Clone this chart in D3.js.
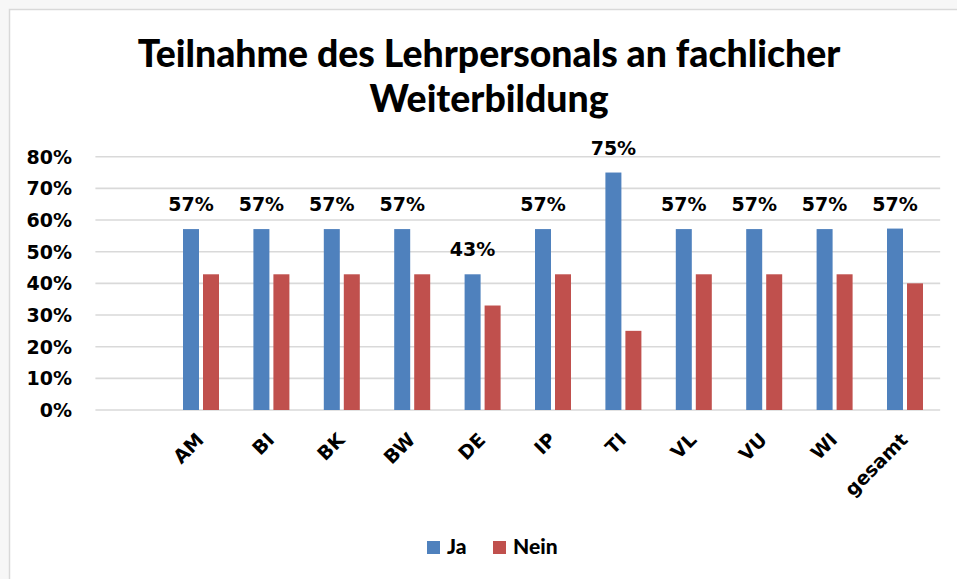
<!DOCTYPE html>
<html>
<head>
<meta charset="utf-8">
<script src="https://cdn.jsdelivr.net/npm/d3@7"></script>
<style>
  html, body { margin: 0; padding: 0; background: #f7f7f7; }
  svg { display: block; }
</style>
</head>
<body>
<div id="display"></div>
<script>
// chart values
const categories = ['', 'AM', 'BI', 'BK', 'BW', 'DE', 'IP', 'TI', 'VL', 'VU', 'WI', 'gesamt'];
const seriesNames = ['Ja', 'Nein'];
const jaValues = [null, 0.5714, 0.5714, 0.5714, 0.5714, 0.4286, 0.5714, 0.75, 0.5714, 0.5714, 0.5714, 0.573];
const neinValues = [null, 0.4286, 0.4286, 0.4286, 0.4286, 0.33, 0.4286, 0.25, 0.4286, 0.4286, 0.4286, 0.40];
const yTicks = [0, 0.1, 0.2, 0.3, 0.4, 0.5, 0.6, 0.7, 0.8];
const titleLines = ['Teilnahme des Lehrpersonals an fachlicher', 'Weiterbildung'];

const colors = {Ja: '#4f81bd', Nein: '#c0504d'};
const W = 957;
const H = 579;

const svg = d3.select('#display').append('svg')
    .attr('width', W)
    .attr('height', H);

// chart frame
svg.append('rect')
    .attr('x', 9.5).attr('y', 9.5)
    .attr('width', W + 10).attr('height', H + 10)
    .attr('fill', '#ffffff')
    .attr('stroke', '#d9d9d9')
    .attr('stroke-width', 1.5);

const x0 = d3.scaleBand().domain(categories).range([95.4, 940.2]);
const x1 = d3.scaleBand().domain(seriesNames).range([0, 36]).paddingInner(0.2);
const y = d3.scaleLinear().domain([0, 0.8]).range([410, 156.7]);

// gridlines
svg.append('g')
    .selectAll('line')
    .data(yTicks)
    .enter()
    .append('line')
    .attr('x1', 95.4)
    .attr('x2', 940.2)
    .attr('y1', (d) => y(d))
    .attr('y2', (d) => y(d))
    .attr('stroke', '#d9d9d9')
    .attr('stroke-width', 1.6);

// y tick labels
svg.append('g')
    .selectAll('text')
    .data(yTicks)
    .enter()
    .append('text')
    .attr('x', 72)
    .attr('y', (d) => y(d))
    .attr('dy', '0.36em')
    .attr('text-anchor', 'end')
    .style('font-family', 'DejaVu Sans')
    .style('font-weight', 'bold')
    .style('font-size', '19px')
    .text((d) => d3.format('.0%')(d));

// bars
const rows = categories.map((c, i) => ({cat: c, Ja: jaValues[i], Nein: neinValues[i]}))
    .filter((r) => r.Ja !== null);

const groups = svg.append('g')
    .selectAll('g')
    .data(rows)
    .enter()
    .append('g')
    .attr('transform', (d) => 'translate(' +
        (x0(d.cat) + x0.bandwidth() / 2 - 18) + ',0)');

groups.selectAll('rect')
    .data((d) => seriesNames.map((k) => ({key: k, value: d[k]})))
    .enter()
    .append('rect')
    .attr('x', (d) => x1(d.key))
    .attr('y', (d) => y(d.value))
    .attr('width', x1.bandwidth())
    .attr('height', (d) => y(0) - y(d.value))
    .attr('fill', (d) => colors[d.key]);

// data labels on Ja bars
groups.append('text')
    .attr('x', x1('Ja') + x1.bandwidth() / 2)
    .attr('y', (d) => y(d.Ja) - 18)
    .attr('text-anchor', 'middle')
    .style('font-family', 'DejaVu Sans')
    .style('font-weight', 'bold')
    .style('font-size', '19px')
    .text((d) => Math.round(d.Ja * 100) + '%');

// category labels
svg.append('g')
    .selectAll('text')
    .data(rows)
    .enter()
    .append('text')
    .attr('transform', (d) => 'translate(' +
        (x0(d.cat) + x0.bandwidth() / 2 + 4) + ',441) rotate(-45)')
    .attr('text-anchor', 'end')
    .style('font-family', 'DejaVu Sans')
    .style('font-weight', 'bold')
    .style('font-size', '19px')
    .text((d) => d.cat);

// title
const title = svg.append('g')
    .selectAll('text')
    .data(titleLines)
    .enter()
    .append('text')
    .attr('x', 489)
    .attr('y', (d, i) => 67 + i * 45)
    .attr('text-anchor', 'middle')
    .style('font-family', 'Lato')
    .style('font-weight', '900')
    .style('font-size', '34px')
    .text((d) => d);

// fit first title line to the measured width
const w0 = title.node().getComputedTextLength();
const fs = 34 * 703 / w0;
title.style('font-size', fs + 'px');

// legend
const legend = svg.append('g')
    .selectAll('g')
    .data(seriesNames)
    .enter()
    .append('g')
    .attr('transform', (d, i) => 'translate(' + (427 + i * 66) + ',0)');

legend.append('rect')
    .attr('x', 0)
    .attr('y', 541)
    .attr('width', 13)
    .attr('height', 13)
    .attr('fill', (d) => colors[d]);

legend.append('text')
    .attr('x', 20)
    .attr('y', 554)
    .style('font-family', 'Lato')
    .style('font-weight', '900')
    .style('font-size', '21px')
    .text((d) => d);
</script>
</body>
</html>
